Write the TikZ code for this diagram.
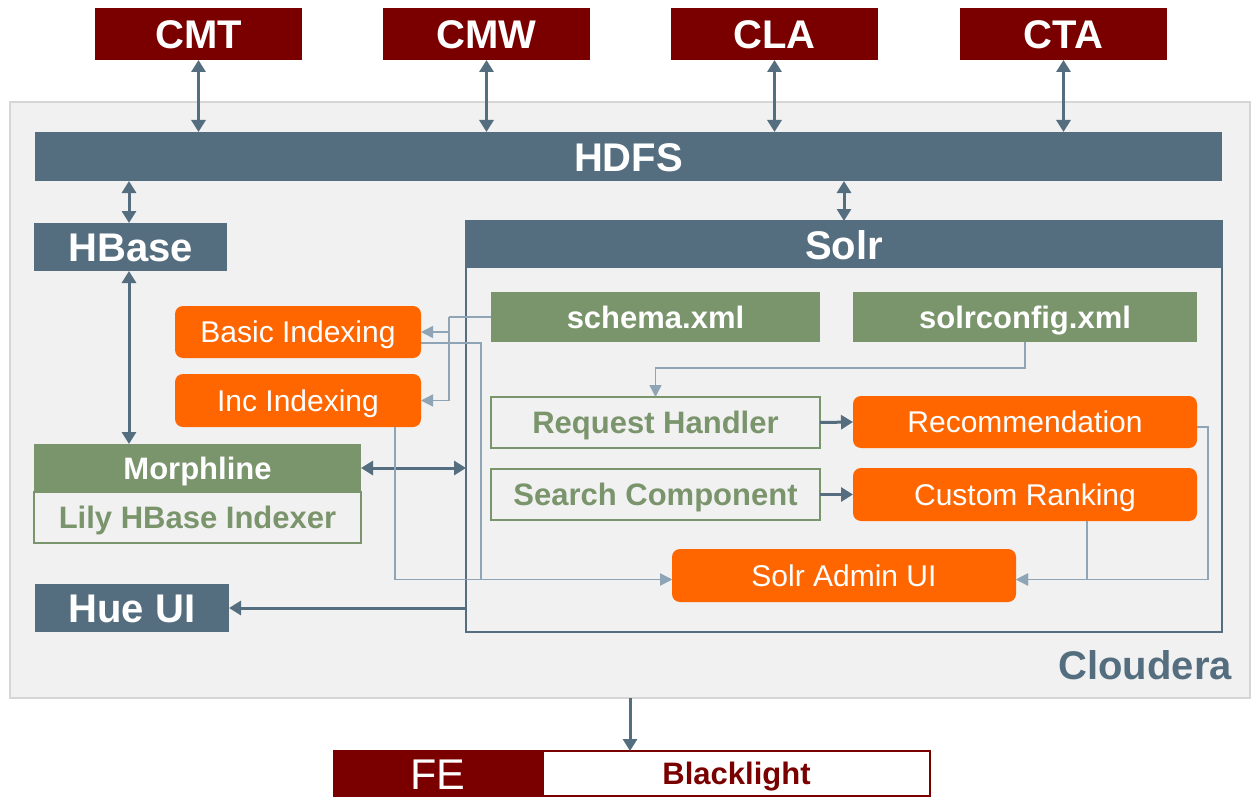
\documentclass[tikz,border=0pt]{standalone}
\usepackage{fontspec}
\setmainfont{Liberation Sans}
\usetikzlibrary{arrows.meta}
\definecolor{dred}{HTML}{7A0000}
\definecolor{slate}{HTML}{546E7F}
\definecolor{sgreen}{HTML}{7A946C}
\definecolor{orng}{HTML}{FF6600}
\definecolor{bgg}{HTML}{F1F1F1}
\definecolor{bord}{HTML}{D6D6D6}
\definecolor{thinc}{HTML}{8FA4B4}
\tikzset{
  bw/.style={minimum width=#1pt},
  bh/.style={minimum height=#1pt},
  base/.style={inner sep=0pt, outer sep=0pt, anchor=center},
  bigf/.style={font=\fontsize{40}{46}\selectfont\bfseries, text height=29pt, text depth=0pt},
  midb/.style={font=\fontsize{31}{36}\selectfont\bfseries, text height=22pt, text depth=0pt},
  midr/.style={font=\fontsize{30}{36}\selectfont, text height=21.5pt, text depth=0pt},
  redbox/.style={base, fill=dred, text=white, bigf},
  slatebox/.style={base, fill=slate, text=white, bigf},
  greenbox/.style={base, fill=sgreen, text=white, midb},
  greenout/.style={base, draw=sgreen, line width=2pt, fill=bgg, text=sgreen, midb},
  orangebox/.style={base, fill=orng, rounded corners=8pt, text=white, midr},
  tarrow/.style={draw=slate, line width=3pt, -{Triangle[length=12pt,width=14pt]}},
  tdbl/.style={draw=slate, line width=3pt, {Triangle[length=12pt,width=14pt]}-{Triangle[length=12pt,width=14pt]}},
  tharrow/.style={draw=thinc, line width=1.5pt, -{Triangle[length=12pt,width=12pt]}},
  thline/.style={draw=thinc, line width=1.5pt},
}
\begin{document}
\begin{tikzpicture}[x=1pt,y=-1pt]
\useasboundingbox (0,0) rectangle (1252,797);
% Cloudera container
\node[base, fill=bgg, draw=bord, line width=2pt, bw=1240, bh=596] (cloud) at (630,400) {};
\node[anchor=east, inner sep=0pt, text=slate, bigf] (cloudlbl) at (1232,665) {Cloudera};
% top sources
\node[redbox, bw=207, bh=52] (cmt) at (198.5,34) {CMT};
\node[redbox, bw=207, bh=52] (cmw) at (486.5,34) {CMW};
\node[redbox, bw=207, bh=52] (cla) at (774.5,34) {CLA};
\node[redbox, bw=207, bh=52] (cta) at (1063.5,34) {CTA};
% HDFS
\node[slatebox, bw=1187, bh=49] (hdfs) at (628.5,156.5) {HDFS};
% HBase
\node[slatebox, bw=193, bh=48] (hbase) at (130.5,247) {HBase};
% Solr
\node[base, draw=slate, line width=2pt, bw=756, bh=411] (solr) at (844,426.5) {};
\node[slatebox, bw=756, bh=47] (solrh) at (844,244.5) {Solr};
% indexing
\node[orangebox, bw=246, bh=52] (basic) at (298,332) {Basic Indexing};
\node[orangebox, bw=246, bh=53] (inc) at (298,400.5) {Inc Indexing};
% config files
\node[greenbox, bw=329, bh=50] (schema) at (655.5,317) {schema.xml};
\node[greenbox, bw=344, bh=50] (solrcfg) at (1025,317) {solrconfig.xml};
% handlers
\node[greenout, bw=329, bh=51] (req) at (655.5,422.5) {Request Handler};
\node[greenout, bw=329, bh=51] (search) at (655.5,494.5) {Search Component};
\node[orangebox, bw=344, bh=52] (rec) at (1025,422) {Recommendation};
\node[orangebox, bw=344, bh=53] (cust) at (1025,494.5) {Custom Ranking};
\node[orangebox, bw=344, bh=53] (admin) at (844,575.5) {Solr Admin UI};
% morphline
\node[greenbox, bw=327, bh=48] (morph) at (197.5,468) {Morphline};
\node[greenout, bw=327, bh=51] (lily) at (197.5,517.5) {Lily HBase Indexer};
% Hue
\node[slatebox, bw=194, bh=48] (hue) at (132,608) {Hue UI};
% FE
\node[base, fill=dred, text=white, font=\fontsize{43}{48}\selectfont, text height=31pt, text depth=0pt, bw=210, bh=47] (fe) at (438,773.5) {FE};
\node[base, fill=white, draw=dred, line width=2pt, text=dred, midb, bw=387, bh=45] (black) at (736.5,773.5) {Blacklight};

% thick connectors
\draw[tdbl] (cmt.south) -- (cmt.south |- hdfs.north);
\draw[tdbl] (cmw.south) -- (cmw.south |- hdfs.north);
\draw[tdbl] (cla.south) -- (cla.south |- hdfs.north);
\draw[tdbl] (cta.south) -- (cta.south |- hdfs.north);
\draw[tdbl] (hbase.north -| 129,0) -- (hdfs.south -| 129,0);
\draw[tdbl] (solrh.north) -- (solrh.north |- hdfs.south);
\draw[tdbl] (hbase.south -| 129,0) -- (morph.north -| 129,0);
\draw[tdbl] (morph.east) -- (morph.east -| solr.west);
\draw[tarrow] (solr.west |- hue.east) -- (hue.east);
\draw[tarrow] (cloud.south) -- (cloud.south |- black.north);
\draw[tarrow] (req.east) -- (rec.west);
\draw[tarrow] (search.east) -- (cust.west);

% thin connectors
\coordinate (j1) at ([xshift=-42pt]schema.west);
\coordinate (b1) at (481,343);
\coordinate (adwl) at ([yshift=-4pt]admin.west);
\coordinate (adwr) at ([yshift=-4pt]admin.east);
\draw[thline] (schema.west) -- (j1);
\draw[tharrow] (j1) |- (inc.east);
\draw[tharrow] (j1) |- (basic.east);
\draw[tharrow] ([yshift=-11pt]basic.east) -- (b1) |- (adwl);
\draw[tharrow] ([xshift=97pt]inc.south) |- (adwl);
\draw[tharrow] (solrcfg.south) -- ++(0,26) -| (req.north);
\draw[tharrow] ([yshift=-5pt]rec.east) -- ++(11,0) |- (adwr);
\draw[tharrow] ([xshift=62pt]cust.south) |- (adwr);
\end{tikzpicture}
\end{document}
